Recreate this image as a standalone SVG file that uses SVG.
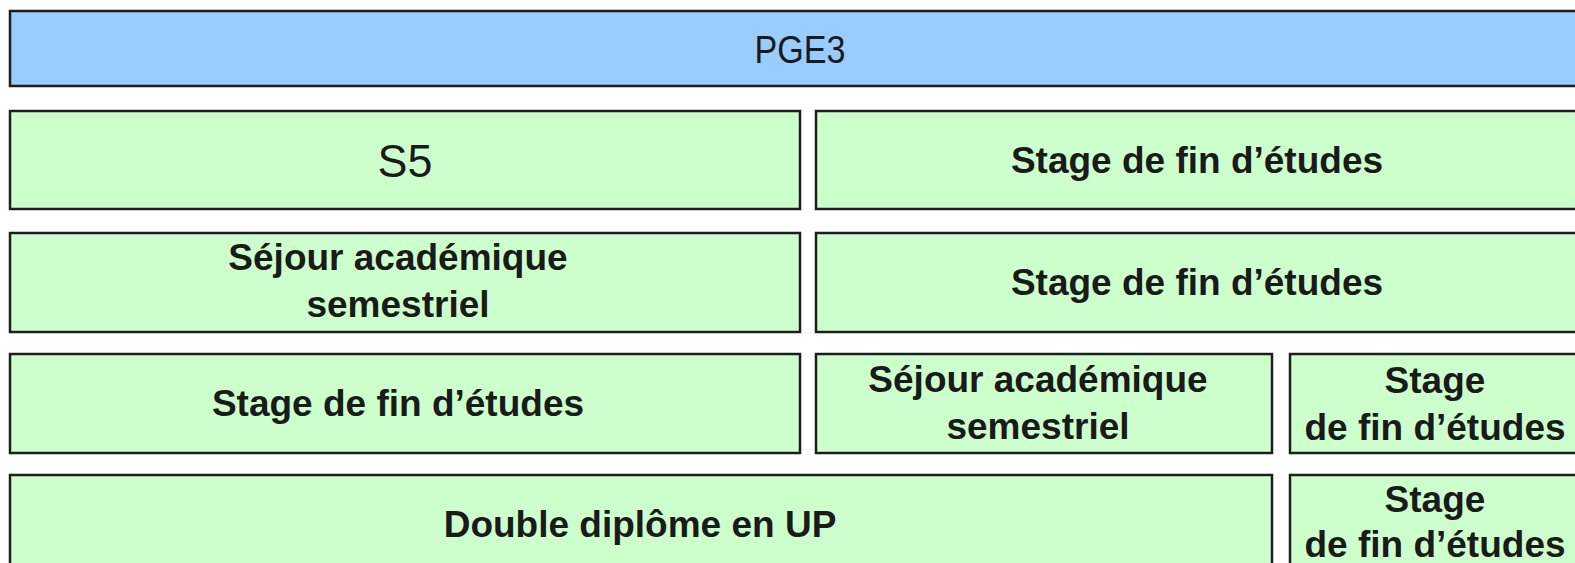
<svg xmlns="http://www.w3.org/2000/svg" width="1575" height="563" viewBox="0 0 1575 563">
<style>
rect{stroke:#1e1e1e;stroke-width:2.5}
.b{fill:#99ccff}
.g{fill:#ccffcc}
text{font-family:"Liberation Sans",Arial,sans-serif;fill:#1a1a1a;text-anchor:middle}
.t{font-weight:bold;font-size:37px}
</style>
<rect width="1575" height="563" fill="#ffffff" style="stroke:none"/>
<g id="pge3"><rect class="b" x="10" y="11" width="1580" height="75"/><text x="800" y="63" font-size="38" textLength="91" lengthAdjust="spacingAndGlyphs">PGE3</text></g>
<g id="s5"><rect class="g" x="10" y="111" width="790" height="98"/><text x="405" y="177" font-size="47" textLength="55" lengthAdjust="spacingAndGlyphs">S5</text></g>
<g id="stage1"><rect class="g" x="816" y="111" width="774" height="98"/><text class="t" x="1197" y="173">Stage de fin d’études</text></g>
<g id="sejour1"><rect class="g" x="10" y="233" width="790" height="99"/><text class="t" x="398" y="270">Séjour académique</text><text class="t" x="398" y="317">semestriel</text></g>
<g id="stage2"><rect class="g" x="816" y="233" width="774" height="99"/><text class="t" x="1197" y="295">Stage de fin d’études</text></g>
<g id="stage3"><rect class="g" x="10" y="354" width="790" height="99"/><text class="t" x="398" y="416">Stage de fin d’études</text></g>
<g id="sejour2"><rect class="g" x="816" y="354" width="456" height="99"/><text class="t" x="1038" y="392">Séjour académique</text><text class="t" x="1038" y="439">semestriel</text></g>
<g id="stage4"><rect class="g" x="1290" y="354" width="300" height="99"/><text class="t" x="1435" y="393">Stage</text><text class="t" x="1435" y="440">de fin d’études</text></g>
<g id="double"><rect class="g" x="10" y="475" width="1262" height="99"/><text class="t" x="640" y="537">Double diplôme en UP</text></g>
<g id="stage5"><rect class="g" x="1290" y="475" width="300" height="99"/><text class="t" x="1435" y="512">Stage</text><text class="t" x="1435" y="557">de fin d’études</text></g>
<g id="connectors"></g>
</svg>
